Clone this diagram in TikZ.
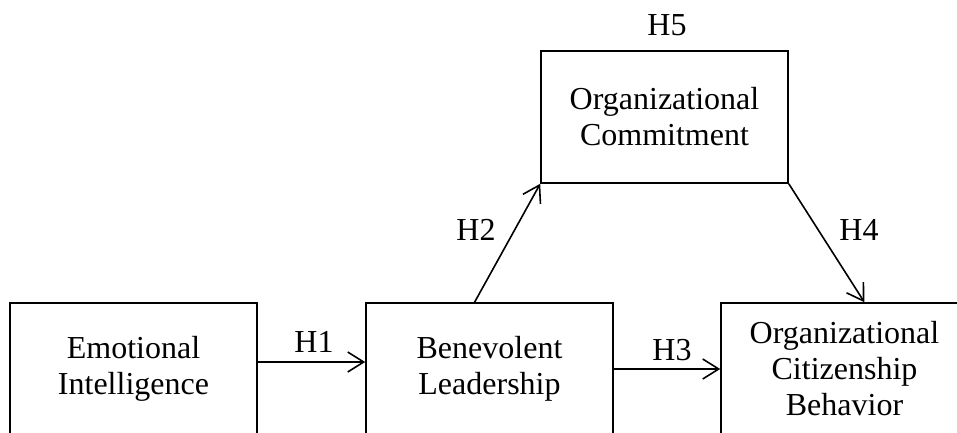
\documentclass[tikz,border=0pt]{standalone}
\usepackage{fontspec}
\setmainfont{Liberation Serif}
\usetikzlibrary{calc, arrows.meta}
\tikzset{>={Straight Barb[length=8pt,width=10pt]}}

\begin{document}
\begin{tikzpicture}[x = 0.5pt, y = -0.5pt, line width = 0.8pt,
  varbox/.style = {draw, minimum width = 123.5pt, minimum height = 66pt, align = center, inner sep = 0pt, font = \fontsize{16}{18}\selectfont},
  hlabel/.style = {font = \fontsize{16}{18}\selectfont}]
\clip (0,0) rectangle (957,433);
\node[varbox] (ei) at (133.5, 369) {Emotional\\Intelligence};
\node[varbox] (bl) at (489.5, 369) {Benevolent\\Leadership};
\node[varbox] (ocb) at (844.5, 369) {Organizational\\Citizenship\\Behavior};
\node[varbox] (oc) at (664.5, 117) {Organizational\\Commitment};
\coordinate (blt) at ($(bl.north west)!0.44!(bl.north east)$);
\coordinate (ocbt) at ($(ocb.north west)!0.58!(ocb.north east)$);
\draw[->] ([yshift = 3.5pt]ei.east) -- ([yshift = 3.5pt]bl.west);
\draw[->] (bl.east) -- (ocb.west);
\draw[->] (blt) -- (oc.south west);
\draw[->] (oc.south east) -- (ocbt);
\node[hlabel] (h1) at (314, 342) {H1};
\node[hlabel] (h2) at (476, 230) {H2};
\node[hlabel] (h3) at (672, 350) {H3};
\node[hlabel] (h4) at (859, 230) {H4};
\node[hlabel] (h5) at (667, 25) {H5};
\end{tikzpicture}
\end{document}
